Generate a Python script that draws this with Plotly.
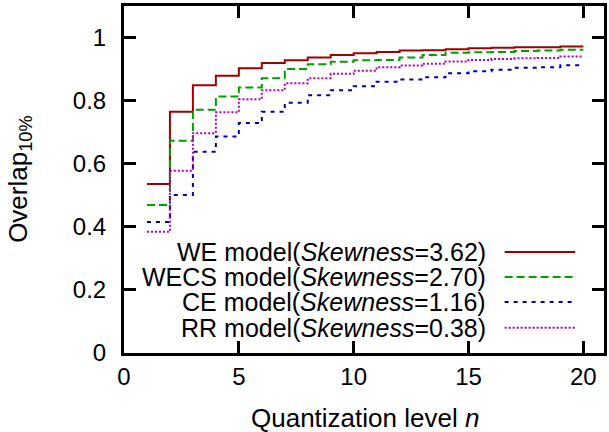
import plotly.graph_objects as go

n = list(range(1, 21))
we = [0.536, 0.765, 0.849, 0.879, 0.903, 0.919, 0.928, 0.937, 0.945, 0.950,
      0.954, 0.959, 0.960, 0.963, 0.966, 0.968, 0.969, 0.969, 0.972, 0.972]
wecs = [0.469, 0.673, 0.771, 0.813, 0.842, 0.871, 0.900, 0.915, 0.923, 0.928,
        0.929, 0.937, 0.945, 0.952, 0.953, 0.954, 0.957, 0.959, 0.961, 0.961]
ce = [0.415, 0.501, 0.638, 0.686, 0.729, 0.765, 0.793, 0.817, 0.833, 0.846,
      0.860, 0.867, 0.874, 0.887, 0.893, 0.898, 0.904, 0.906, 0.912, 0.912]
rr = [0.384, 0.578, 0.697, 0.763, 0.804, 0.833, 0.855, 0.871, 0.885, 0.895,
      0.906, 0.911, 0.917, 0.924, 0.929, 0.932, 0.934, 0.935, 0.940, 0.940]

names = ["WE model(<i>Skewness</i>=3.62)", "WECS model(<i>Skewness</i>=2.70)",
         "CE model(<i>Skewness</i>=1.16)", "RR model(<i>Skewness</i>=0.38)"]
series = [we, wecs, ce, rr]
colors = ["#a00000", "#00a000", "#0000a8", "#b000b0"]
dashes = ["solid", "8px,4px", "4px,5px", "2px,2px"]

FONT = "Liberation Sans, Arial, sans-serif"

fig = go.Figure()
for ys, c, d in zip(series, colors, dashes):
    fig.add_trace(go.Scatter(x=n, y=ys, mode="lines", line=dict(color=c, width=2, dash=d, shape="hv"),
                             showlegend=False))

# manual legend (text right-aligned, sample line on right)
leg_y = [0.291, 0.219, 0.147, 0.073]
for name, c, d, yy in zip(names, colors, dashes, leg_y):
    fig.add_annotation(x=0.758, y=yy, xref="paper", yref="paper", text=name, showarrow=False,
                       xanchor="right", yanchor="middle", font=dict(size=25, color="black", family=FONT))
    fig.add_shape(type="line", xref="paper", yref="paper", x0=0.793, x1=0.940, y0=yy, y1=yy,
                  line=dict(color=c, width=2, dash=d))

fig.add_annotation(x=-0.218, y=0.5, xref="paper", yref="paper", text="Overlap<sub>10%</sub>",
                   textangle=-90, showarrow=False, xanchor="center", yanchor="middle",
                   font=dict(size=26, color="black", family=FONT))
fig.add_annotation(x=0.503, y=-0.186, xref="paper", yref="paper", text="Quantization level <i>n</i>",
                   showarrow=False, xanchor="center", yanchor="middle",
                   font=dict(size=26, color="black", family=FONT))

axis_common = dict(showline=True, linewidth=3, linecolor="black", mirror="allticks",
                   ticks="inside", ticklen=12, tickwidth=3, tickcolor="black",
                   showgrid=False, zeroline=False,
                   tickfont=dict(size=24, color="black", family=FONT))
fig.update_xaxes(range=[0, 20.9], tickvals=[0, 5, 10, 15, 20], **axis_common)
fig.update_yaxes(range=[0, 1.1], tickvals=[0, 0.2, 0.4, 0.6, 0.8, 1], ticktext=["0", "0.2", "0.4", "0.6", "0.8", "1"],
                 ticklabelstandoff=10, **axis_common)

fig.update_layout(width=609, height=432, margin=dict(l=124, r=2, t=6, b=79),
                  plot_bgcolor="white", paper_bgcolor="white",
                  font=dict(family=FONT, color="black"))

fig.write_html("out.html")
